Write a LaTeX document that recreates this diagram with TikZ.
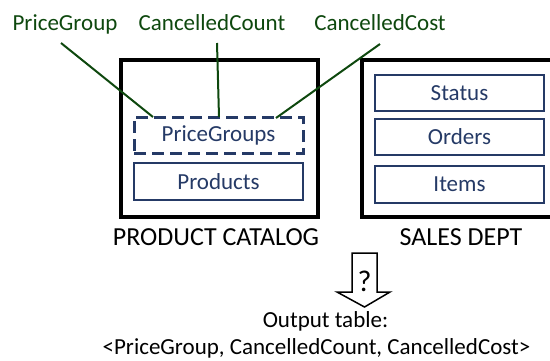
\documentclass[tikz,border=0pt]{standalone}
\usepackage{fontspec}
\setmainfont{Carlito}
\definecolor{navy}{RGB}{37,58,102}
\definecolor{dgreen}{RGB}{14,72,14}
\tikzset{
  txt/.style={font=\fontsize{23}{27}\selectfont, inner sep=0pt},
  biglbl/.style={font=\fontsize{26}{30}\selectfont, inner sep=0pt},
  outerbox/.style={draw=black, line width=4.5pt, inner sep=0pt},
  tablebox/.style={draw=navy, line width=2.5pt, text=navy, inner sep=0pt, minimum width=169pt, minimum height=36pt, font=\fontsize{23}{27}\selectfont},
  dashbox/.style={tablebox, dash pattern=on 12pt off 6pt, line width=3pt},
  glabel/.style={txt, text=dgreen, anchor=base},
  gline/.style={draw=dgreen, line width=2pt},
}
\begin{document}
\begin{tikzpicture}[x=1pt,y=-1pt]
\useasboundingbox (0,0) rectangle (550,360);
\clip (0,0) rectangle (550,360);
% outer boxes
\node[outerbox, minimum width=197pt, minimum height=157pt] (pc) at (219.5,138.5) {};
\node[outerbox, minimum width=240pt, minimum height=157pt] (sd) at (482,138.5) {};
% inner tables
\node[dashbox] (pgs) at (218.5,135) {PriceGroups};
\node[tablebox, minimum height=37pt] (prod) at (218.5,181.5) {Products};
\node[tablebox] (stat) at (459.5,93) {Status};
\node[tablebox] (ord) at (459.5,137) {Orders};
\node[tablebox, minimum height=37pt] (itm) at (459.5,184.5) {Items};
% box labels
\node[biglbl, anchor=base] (pcl) at (216,245) {PRODUCT CATALOG};
\node[biglbl, anchor=base] (sdl) at (461,245) {SALES DEPT};
% top labels
\node[glabel] (l1) at (65,30) {PriceGroup};
\node[glabel] (l2) at (212,30) {CancelledCount};
\node[glabel] (l3) at (380,30) {CancelledCost};
\coordinate (s1) at (61,43);
\coordinate (s2) at (217,43);
\coordinate (s3) at (380,44);
\coordinate (e1) at (153,117);
\coordinate (e2) at (219,117);
\coordinate (e3) at (276,118);
\draw[gline] (s1) -- (e1);
\draw[gline] (s2) -- (e2);
\draw[gline] (s3) -- (e3);
% block arrow
\draw[line width=1.5pt, line join=miter, fill=white] (352,253) -- (377,253) -- (377,292) -- (390,292) -- (364.5,307) -- (337,292) -- (352,292) -- cycle;
\node[inner sep=0pt, anchor=base, font=\fontsize{30}{34}\selectfont] (q) at (364.5,291) {?};
% output
\node[txt, anchor=base] (out1) at (325.5,327) {Output table:};
\node[txt, anchor=base] (out2) at (316.5,354) {<PriceGroup, CancelledCount, CancelledCost>};
\end{tikzpicture}
\end{document}
